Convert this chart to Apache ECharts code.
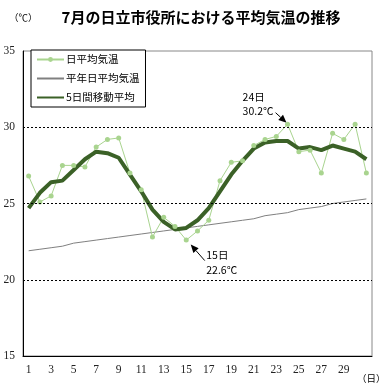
<!DOCTYPE html>
<html><head><meta charset="utf-8">
<script src="https://cdn.jsdelivr.net/npm/echarts/dist/echarts.min.js"></script>
<style>html,body{margin:0;padding:0;background:#fff}#c{width:390px;height:390px}</style>
</head><body><div id="c"></div>
<script>
const days = ['1','2','3','4','5','6','7','8','9','10','11','12','13','14','15','16','17','18','19','20','21','22','23','24','25','26','27','28','29','30','31'];
const dailyTemp = [26.8,25.1,25.5,27.5,27.5,27.4,28.7,29.2,29.3,27.0,25.9,22.8,24.1,23.5,22.6,23.2,23.9,26.5,27.7,27.8,28.8,29.2,29.4,30.2,28.4,28.5,27.0,29.6,29.2,30.2,27.0];
const normalTemp = [21.9,22.0,22.1,22.2,22.4,22.5,22.6,22.7,22.8,22.9,23.0,23.1,23.2,23.3,23.4,23.5,23.6,23.7,23.8,23.9,24.0,24.2,24.3,24.4,24.6,24.7,24.8,25.0,25.1,25.2,25.3];
const movingAvg = [24.7,25.7,26.4,26.5,27.2,27.9,28.4,28.3,28.0,26.9,25.8,24.6,23.8,23.3,23.4,23.9,24.7,25.8,26.9,27.8,28.6,29.0,29.1,29.1,28.6,28.7,28.5,28.8,28.6,28.4,27.9];
const seriesNames = ['日平均気温','平年日平均気温','5日間移動平均'];
const gridValues = [20,25,30];
const yMin = 15, yMax = 35, yStep = 5;
const noteMax = {index: 23, value: 30.2, lines: ['24日','30.2℃']};
const noteMin = {index: 14, value: 22.6, lines: ['15日','22.6℃']};

const chart = echarts.init(document.getElementById('c'));
const JP = '"Noto Sans CJK JP", sans-serif';
chart.setOption({
  animation: false,
  backgroundColor: '#fff',
  grid: {left: 23, right: 18, top: 51, bottom: 34, show: true, borderColor: '#888', borderWidth: 1},
  legend: {
    left: 31, top: 50, orient: 'vertical',
    data: [
      {name: seriesNames[0]},
      {name: seriesNames[1], itemStyle: {color: 'transparent', borderWidth: 0, opacity: 0}},
      {name: seriesNames[2], itemStyle: {color: 'transparent', borderWidth: 0, opacity: 0}}
    ],
    backgroundColor: '#fff', borderColor: '#000', borderWidth: 1,
    padding: [4, 6, 4, 5], itemGap: 8, itemWidth: 27, itemHeight: 6,
    textStyle: {fontFamily: JP, fontSize: 10.5, color: '#000', padding: [0,0,0,-3], lineHeight: 11}
  },
  xAxis: {
    type: 'category', data: days, boundaryGap: true,
    axisLine: {lineStyle: {color: '#000', width: 1}},
    axisTick: {inside: true, length: 3, interval: 0, lineStyle: {color: '#000'}},
    axisLabel: {interval: (i) => i % 2 === 0 && i < 30, margin: 8, fontFamily: '"Liberation Serif", serif', fontSize: 11.5, color: '#222'},
    splitLine: {show: false}
  },
  yAxis: {
    type: 'value', min: yMin, max: yMax, interval: yStep,
    axisLine: {show: true, lineStyle: {color: '#000', width: 1}},
    axisTick: {show: false},
    axisLabel: {margin: 8, fontFamily: '"Liberation Serif", serif', fontSize: 11.5, color: '#222'},
    splitLine: {show: false}
  },
  series: [
    {
      name: seriesNames[1], type: 'line', data: normalTemp, symbol: 'none', showSymbol: false,
      lineStyle: {color: '#808080', width: 1}, itemStyle: {color: '#808080'},
      markLine: {
        silent: true, symbol: 'none', label: {show: false},
        lineStyle: {color: '#000', type: [2, 2], width: 1},
        data: gridValues.map(v => ({yAxis: v}))
      }
    },
    {
      name: seriesNames[0], type: 'line', data: dailyTemp, symbol: 'circle', symbolSize: 5, showSymbol: true,
      lineStyle: {color: '#a9d48f', width: 1}, itemStyle: {color: '#a9d48f', borderWidth: 0}
    },
    {
      name: seriesNames[2], type: 'line', data: movingAvg, symbol: 'none', showSymbol: false,
      lineStyle: {color: '#3b6127', width: 4}, itemStyle: {color: '#3b6127'}
    }
  ]
});

function arrowGraphic(x1, y1, x2, y2) {
  const ang = Math.atan2(y2 - y1, x2 - x1);
  const L = 8, W = 3.5;
  const bx = x2 - L * Math.cos(ang), by = y2 - L * Math.sin(ang);
  const px = -Math.sin(ang) * W, py = Math.cos(ang) * W;
  return [
    {type: 'line', shape: {x1: x1, y1: y1, x2: bx, y2: by}, style: {stroke: '#000', lineWidth: 1}},
    {type: 'polygon', shape: {points: [[x2, y2], [bx + px, by + py], [bx - px, by - py]]}, style: {fill: '#000'}}
  ];
}
function txt(x, y, s, font) {
  return {type: 'text', x: x, y: y, style: {text: s, font: font || ('10.5px ' + JP), fill: '#000', textVerticalAlign: 'middle', verticalAlign: 'middle'}};
}
const pMax = chart.convertToPixel({gridIndex: 0}, [noteMax.index, noteMax.value]);
const pMin = chart.convertToPixel({gridIndex: 0}, [noteMin.index, noteMin.value]);
const g = [];
g.push({type: 'text', x: 201, y: 17, style: {text: '7月の日立市役所における平均気温の推移', font: 'bold 15px ' + JP, fill: '#000', textAlign: 'center', align: 'center', textVerticalAlign: 'middle', verticalAlign: 'middle'}});
g.push(txt(9, 17, '（℃）', '9.5px ' + JP));
g.push(txt(357, 378, '（日）', '9.5px ' + JP));
g.push(txt(pMax[0] - 45, pMax[1] - 27, noteMax.lines[0]));
g.push(txt(pMax[0] - 45, pMax[1] - 13, noteMax.lines[1]));
g.push(...arrowGraphic(pMax[0] - 12, pMax[1] - 11.5, pMax[0] - 1, pMax[1] - 1.5));
g.push(txt(pMin[0] + 20, pMin[1] + 15, noteMin.lines[0]));
g.push(txt(pMin[0] + 20, pMin[1] + 30, noteMin.lines[1]));
g.push(...arrowGraphic(pMin[0] + 18.5, pMin[1] + 20.5, pMin[0] + 4.5, pMin[1] + 4.5));
chart.setOption({graphic: g});
</script>
</body></html>
